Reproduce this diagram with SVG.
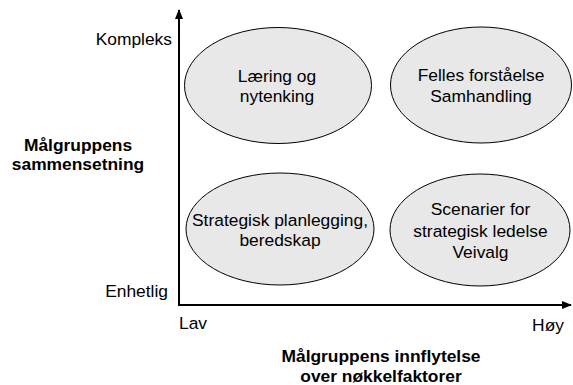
<svg xmlns="http://www.w3.org/2000/svg" width="573" height="385" viewBox="0 0 573 385">
<style>
text{font-family:"Liberation Sans",Arial,sans-serif;font-size:17.4px;fill:#000}
.b{font-weight:bold}
.m{text-anchor:middle}
.e{text-anchor:end}
ellipse{fill:#e8e8e8;stroke:#000;stroke-width:1}
.ax{stroke:#000;stroke-width:2;fill:none}
</style>
<defs>
<marker id="ah" markerWidth="10" markerHeight="10" refX="9" refY="5" orient="auto" markerUnits="userSpaceOnUse">
<path d="M0,1 L10,5 L0,9 Z" fill="#000"/>
</marker>
</defs>
<g id="connectors">
<path class="ax" d="M179,305 L179,10" marker-end="url(#ah)"/>
<path class="ax" d="M178,305 L571,305" marker-end="url(#ah)"/>
</g>
<g id="n1">
<ellipse cx="278" cy="85.5" rx="93.5" ry="58"/>
<text class="m" x="277" y="82">Læring og</text>
<text class="m" x="277" y="102">nytenking</text>
</g>
<g id="n2">
<ellipse cx="481" cy="85" rx="90.5" ry="58"/>
<text class="m" x="481" y="81">Felles forståelse</text>
<text class="m" x="481" y="101.5">Samhandling</text>
</g>
<g id="n3">
<ellipse cx="280" cy="229" rx="94" ry="56"/>
<text class="m" x="280" y="225.5">Strategisk planlegging,</text>
<text class="m" x="280" y="245.5">beredskap</text>
</g>
<g id="n4">
<ellipse cx="480" cy="230" rx="90" ry="56"/>
<text class="m" x="480.5" y="215">Scenarier for</text>
<text class="m" x="480.5" y="236.5">strategisk ledelse</text>
<text class="m" x="480.5" y="258">Veivalg</text>
</g>
<g id="labels">
<text class="e" x="172" y="45">Kompleks</text>
<text class="e" x="168" y="297">Enhetlig</text>
<text x="179" y="329">Lav</text>
<text class="e" x="564" y="330.5">Høy</text>
<text class="b m" x="78" y="150.5">Målgruppens</text>
<text class="b m" x="78" y="169.5">sammensetning</text>
<text class="b m" x="381" y="361.5">Målgruppens innflytelse</text>
<text class="b m" x="381" y="381.5">over nøkkelfaktorer</text>
</g>
</svg>
